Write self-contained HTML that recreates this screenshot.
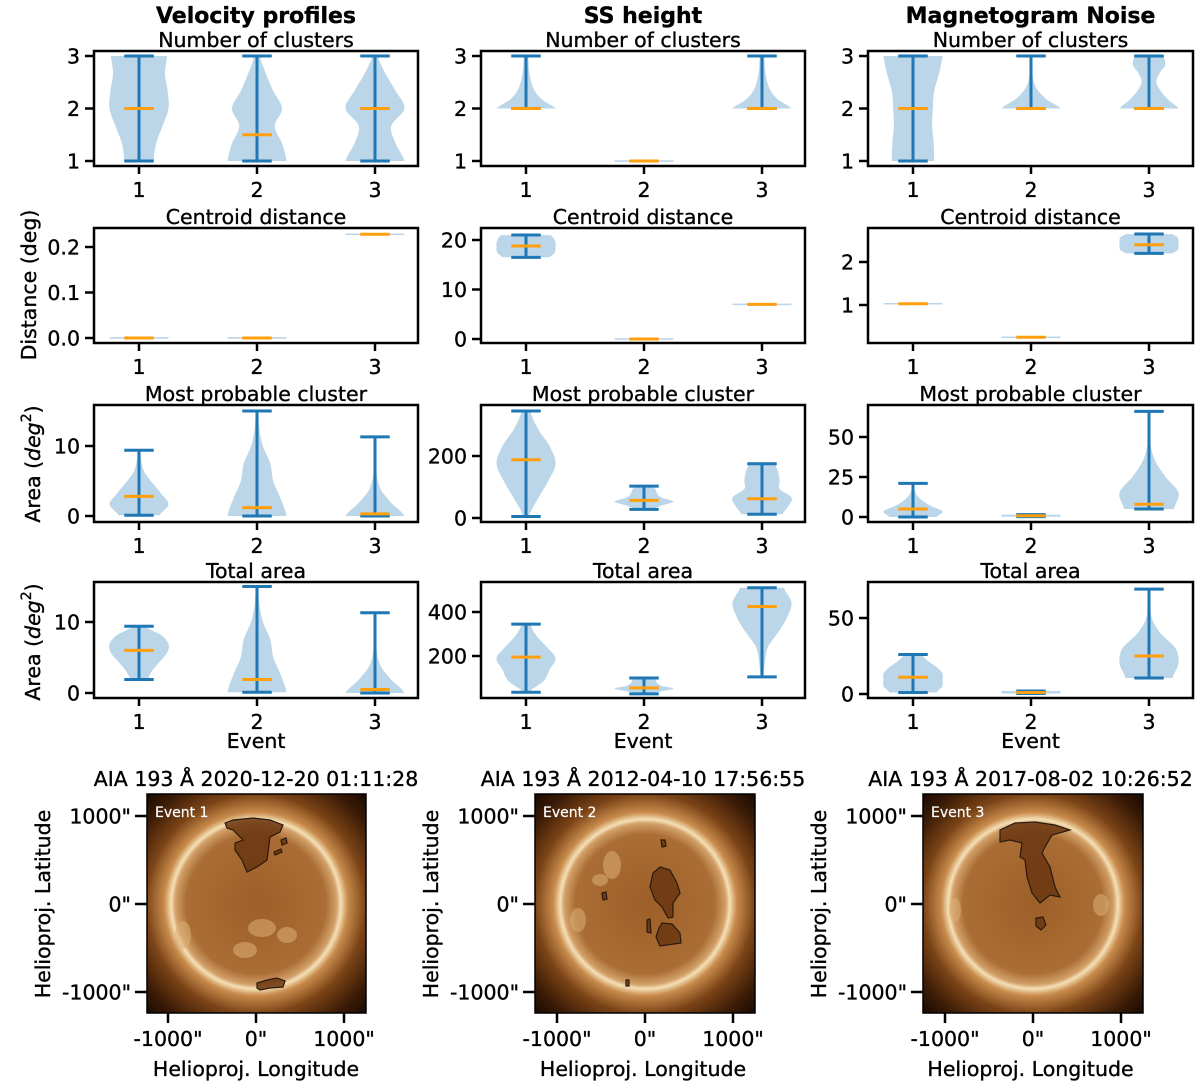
<!DOCTYPE html>
<html><head><meta charset="utf-8">
<style>
html,body{margin:0;padding:0;background:#fff;}
svg{display:block;font-family:"DejaVu Sans","Liberation Sans",sans-serif;}
svg text{stroke:#000;stroke-width:0.35px;}
svg text.wt{stroke:#fff;stroke-width:0.2px;}
</style></head>
<body>
<svg id="fig" width="1200" height="1091" viewBox="0 0 1200 1091" xmlns="http://www.w3.org/2000/svg">
<defs>
  <radialGradient id="corona" cx="0.5" cy="0.5" r="0.5">
    <stop offset="0" stop-color="#b27335"/>
    <stop offset="0.54" stop-color="#c98d50"/>
    <stop offset="0.556" stop-color="#f3dcb0"/>
    <stop offset="0.6" stop-color="#c88b4c"/>
    <stop offset="0.72" stop-color="#7a4316"/>
    <stop offset="0.88" stop-color="#3c1c06"/>
    <stop offset="1" stop-color="#1c0b02"/>
  </radialGradient>
  <radialGradient id="disc" cx="0.5" cy="0.5" r="0.5">
    <stop offset="0" stop-color="#9c5f27"/>
    <stop offset="0.82" stop-color="#aa6e35"/>
    <stop offset="0.95" stop-color="#d2a068"/>
    <stop offset="1" stop-color="#f7e4be"/>
  </radialGradient>
</defs>
</svg>
<script>
// ---------- violin chart data (index: [column][event]) ----------
const events = [1, 2, 3];
const columnTitles = ["Velocity profiles", "SS height", "Magnetogram Noise"];
const rowTitles = ["Number of clusters", "Centroid distance", "Most probable cluster", "Total area"];

const clustersMin = [[1,1,1],[2,1,2],[1,2,2]];
const clustersMax = [[3,3,3],[3,1,3],[3,3,3]];
const clustersMed = [[2,1.5,2],[2,1,2],[2,2,2]];
const clustersDens = [
  [[0.5,0.58,0.8,1.0,0.97,0.88,0.95],[1.0,0.85,0.6,0.85,0.55,0.3,0.1],[1.0,0.7,0.55,1.0,0.7,0.35,0.1]],
  [[1.0,0.55,0.3,0.18,0.12,0.09,0.08],[1,1,1,1,1,1,1],[1.0,0.55,0.3,0.18,0.12,0.09,0.08]],
  [[0.72,0.7,0.65,0.67,0.72,0.88,1.0],[1.0,0.55,0.25,0.1,0.05,0.04,0.03],[1.0,0.65,0.4,0.25,0.35,0.55,0.5]]
];

const distMin = [[0,0,0.228],[16.5,0,7],[1.03,0.25,2.2]];
const distMax = [[0,0,0.228],[21,0,7],[1.03,0.25,2.65]];
const distMed = [[0,0,0.228],[18.8,0,7],[1.03,0.25,2.4]];
const distDens = [
  [[1,1,1,1,1,1,1],[1,1,1,1,1,1,1],[1,1,1,1,1,1,1]],
  [[0.8,0.95,1.0,1.0,1.0,0.95,0.85],[1,1,1,1,1,1,1],[1,1,1,1,1,1,1]],
  [[1,1,1,1,1,1,1],[1,1,1,1,1,1,1],[0.8,0.97,1.0,1.0,1.0,0.97,0.8]]
];

const mpcMin = [[0.1,0,0],[5,28,12],[0,0.2,5]];
const mpcMax = [[9.4,15,11.3],[345,103,175],[21,1.5,66]];
const mpcMed = [[2.8,1.2,0.3],[188,57,62],[5,0.8,8]];
const mpcDens = [
  [[0.7,1.0,0.75,0.45,0.18,0.08,0.05],[1.0,0.8,0.55,0.45,0.2,0.08,0.05],[1.0,0.55,0.2,0.07,0.04,0.03,0.03]],
  [[0.1,0.4,0.75,1.0,0.8,0.4,0.15],[0.3,0.6,1.0,0.6,0.45,0.4,0.3],[0.7,0.9,1.0,0.6,0.6,0.55,0.45]],
  [[0.8,1.0,0.6,0.3,0.12,0.05,0.03],[1,1,1,1,1,1,1],[0.85,1.0,0.55,0.2,0.05,0.03,0.03]]
];

const totMin = [[1.9,0.1,0],[35,28,105],[1,0.3,10.5]];
const totMax = [[9.4,15,11.3],[345,100,510],[26,2,69]];
const totMed = [[6,1.9,0.5],[195,55,425],[11,1,25]];
const totDens = [
  [[0.3,0.45,0.7,0.95,1.0,0.75,0.2],[1.0,0.8,0.55,0.45,0.2,0.08,0.05],[1.0,0.55,0.2,0.07,0.04,0.03,0.03]],
  [[0.1,0.6,0.8,1.0,0.7,0.35,0.15],[0.3,0.6,1.0,0.6,0.45,0.4,0.3],[0.05,0.1,0.2,0.55,0.85,1.0,0.75]],
  [[0.8,1.0,1.0,1.0,0.8,0.5,0.3],[1,1,1,1,1,1,1],[0.8,1.0,0.9,0.4,0.1,0.05,0.05]]
];

// tick values per [row][col]
const yTicks = [
  [[1,2,3],[1,2,3],[1,2,3]],
  [[0,0.1,0.2],[0,10,20],[1,2]],
  [[0,10],[0,200],[0,25,50]],
  [[0,10],[200,400],[0,50]]
];
const yTickLabels = [
  [["1","2","3"],["1","2","3"],["1","2","3"]],
  [["0.0","0.1","0.2"],["0","10","20"],["1","2"]],
  [["0","10"],["0","200"],["0","25","50"]],
  [["0","10"],["200","400"],["0","50"]]
];
const solarTitles = ["AIA 193 Å 2020-12-20 01:11:28","AIA 193 Å 2012-04-10 17:56:55","AIA 193 Å 2017-08-02 10:26:52"];
const solarTickVals = [-1000, 0, 1000];
const solarTickLabels = ['-1000"', '0"', '1000"'];

// ---------- layout (not data) ----------
const NS = "http://www.w3.org/2000/svg";
const svg = document.getElementById("fig");
const boxL = [94, 481, 868], boxR = [418, 805, 1193];
const boxT = [51, 228, 405, 582], boxB = [166, 343, 522, 698];
const ev1X = [139, 526, 913], evStep = 118;
const yCal = [
  [[1,161,3,56],[1,161,3,56],[1,161,3,56]],
  [[0,338,0.2,247],[0,339,20,240],[1,305,2,262]],
  [[0,516,10,446],[0,518,200,456],[0,517,50,437]],
  [[0,693,10,622],[200,656,400,612],[0,694,50,618]]
];
const BLUE = "#1f77b4", FILL = "#1f77b4", ORANGE = "#ff9f0e";
const FS = 20.5;

function mk(tag, attrs, parent) {
  const e = document.createElementNS(NS, tag);
  for (const k in attrs) e.setAttribute(k, attrs[k]);
  (parent || svg).appendChild(e);
  return e;
}
function xScale(col, ev) { return ev1X[col] + (ev - 1) * evStep; }
function yScale(row, col, v) {
  const c = yCal[row][col];
  return c[1] + (v - c[0]) * (c[3] - c[1]) / (c[2] - c[0]);
}
function catmull(arr, t) {
  const n = arr.length - 1;
  const i = Math.min(Math.floor(t), n - 1), f = t - i;
  const p0 = arr[Math.max(i - 1, 0)], p1 = arr[i], p2 = arr[i + 1], p3 = arr[Math.min(i + 2, n)];
  return 0.5 * ((2 * p1) + (-p0 + p2) * f + (2 * p0 - 5 * p1 + 4 * p2 - p3) * f * f + (-p0 + 3 * p1 - 3 * p2 + p3) * f * f * f);
}

const rowsData = [
  [clustersMin, clustersMax, clustersMed, clustersDens],
  [distMin, distMax, distMed, distDens],
  [mpcMin, mpcMax, mpcMed, mpcDens],
  [totMin, totMax, totMed, totDens]
];
const HALF = 0.25 * evStep, CAP = 0.125 * evStep;

for (let r = 0; r < 4; r++) {
  for (let c = 0; c < 3; c++) {
    const g = mk("g", {});
    
    
    const [mins, maxs, meds, dens] = rowsData[r];
    const cx = (boxL[c] + boxR[c]) / 2;
    const tt = mk("text", {x: cx, y: boxT[r] - 4, "text-anchor": "middle", "font-size": FS}, g);
    tt.textContent = rowTitles[r];
    
    
    for (let e = 0; e < 3; e++) {
      const x = xScale(c, events[e]);
      const mn = mins[c][e], mx = maxs[c][e], md = meds[c][e], d = dens[c][e];
      const yMin = yScale(r, c, mn), yMax = yScale(r, c, mx), yMed = yScale(r, c, md);
      if (Math.abs(yMin - yMax) < 2) {
        const ln = mk("line", {x1: x - HALF, x2: x + HALF, y1: yMin, y2: yMin, stroke: "#bcd4e8", "stroke-width": 1.5}, g);
        
        
      } else {
        const N = 60; let left = [], right = [];
        for (let i = 0; i <= N; i++) {
          const t = i / N;
          const v = mn + t * (mx - mn);
          const w = Math.max(0.02, catmull(d, t * (d.length - 1))) * HALF;
          const y = yScale(r, c, v);
          left.push((x - w).toFixed(1) + "," + y.toFixed(1));
          right.unshift((x + w).toFixed(1) + "," + y.toFixed(1));
        }
        const body = mk("polygon", {points: left.concat(right).join(" "), fill: FILL, "fill-opacity": 0.3}, g);
        
        
        const bar = mk("line", {x1: x, x2: x, y1: yMin, y2: yMax, stroke: BLUE, "stroke-width": 3}, g);
        
        
        const cap1 = mk("line", {x1: x - CAP, x2: x + CAP, y1: yMin, y2: yMin, stroke: BLUE, "stroke-width": 3}, g);
        
        
        const cap2 = mk("line", {x1: x - CAP, x2: x + CAP, y1: yMax, y2: yMax, stroke: BLUE, "stroke-width": 3}, g);
        
        
      }
      const med = mk("line", {x1: x - CAP, x2: x + CAP, y1: yMed, y2: yMed, stroke: ORANGE, "stroke-width": 3}, g);
      
      
      const xt = mk("line", {x1: x, x2: x, y1: boxB[r], y2: boxB[r] + 8, stroke: "#000", "stroke-width": 2.5}, g);
      
      
      const xl = mk("text", {x: x, y: boxB[r] + 31, "text-anchor": "middle", "font-size": FS}, g);
      xl.textContent = String(events[e]);
      
      
    }
    const tv = yTicks[r][c], tl = yTickLabels[r][c];
    for (let k = 0; k < tv.length; k++) {
      const y = yScale(r, c, tv[k]);
      const yt = mk("line", {x1: boxL[c] - 9, x2: boxL[c], y1: y, y2: y, stroke: "#000", "stroke-width": 2.5}, g);
      
      
      const yl = mk("text", {x: boxL[c] - 14, y: y + 7.5, "text-anchor": "end", "font-size": FS}, g);
      yl.textContent = tl[k];
      
      
    }
    const box = mk("rect", {x: boxL[c], y: boxT[r], width: boxR[c] - boxL[c], height: boxB[r] - boxT[r], fill: "none", stroke: "#000", "stroke-width": 2.5}, g);
    
    
  }
}
for (let c = 0; c < 3; c++) {
  const t = mk("text", {x: (boxL[c] + boxR[c]) / 2, y: 23, "text-anchor": "middle", "font-size": 22, "font-weight": "bold"});
  t.textContent = columnTitles[c];
  
  
  const ev = mk("text", {x: (boxL[c] + boxR[c]) / 2, y: 748, "text-anchor": "middle", "font-size": FS});
  ev.textContent = "Event";
  
  
}
const ylabs = [["Distance (deg)", 30, 285, false], ["Area (", 34, 464, true], ["Area (", 34, 642, true]];
for (const [txt, x, y, sup] of ylabs) {
  const t = mk("text", {x: x, y: y, "text-anchor": "middle", "font-size": FS, transform: "rotate(-90 " + x + " " + y + ")", "dominant-baseline": "middle"});
  if (sup) {
    t.innerHTML = 'Area (<tspan font-style="italic">deg</tspan><tspan dy="-7" font-size="14">2</tspan><tspan dy="7">)</tspan>';
  } else t.textContent = txt;
  
  
}

// ---------- solar images ----------
const imgL = [147, 535, 923], imgR = [366, 755, 1143], imgT = 794, imgB = 1013;
const sunCX = [256, 645, 1033], sunCY = 904, sunR = 85;
const pxPerArcsec = 0.088;
const holes = [
  [
    "225,823 233,820 253,818 270,820 283,825 280,832 270,837 267,860 257,867 247,872 242,860 235,850 235,843 243,840 233,830 227,828",
    "257,983 267,980 277,978 285,981 283,987 270,988 260,990 257,988",
    "281,840 286,838 287,843 282,845",
    "274,852 281,849 282,852 275,855"
  ],
  [
    "660,867 670,870 677,883 680,893 673,903 673,917 668,918 662,907 655,900 650,887 653,873",
    "662,923 672,924 680,933 681,943 660,946 656,937 659,928",
    "661,840 665,840 666,846 662,847",
    "602,893 606,892 607,899 603,900",
    "647,920 650,919 651,933 647,932",
    "626,980 629,980 629,986 626,986"
  ],
  [
    "1000,830 1015,823 1035,822 1055,825 1070,830 1052,835 1045,847 1042,853 1050,867 1055,887 1060,897 1050,895 1040,903 1032,893 1027,877 1025,860 1020,857 1022,843 1010,840 1000,842",
    "1036,918 1043,917 1046,925 1041,930 1036,926"
  ]
];
const brightSpots = [
  [[262,928,14,9],[287,935,10,8],[183,935,8,14],[245,950,12,8]],
  [[612,865,9,14],[578,920,8,12],[600,880,8,6]],
  [[1101,905,8,11],[955,910,6,12]]
];
for (let c = 0; c < 3; c++) {
  const g = mk("g", {});
  
  
  const clip = mk("clipPath", {id: "clip" + c}, g);
  mk("rect", {x: imgL[c], y: imgT, width: imgR[c] - imgL[c], height: imgB - imgT}, clip);
  const ig = mk("g", {"clip-path": "url(#clip" + c + ")"}, g);
  const bg = mk("rect", {x: imgL[c], y: imgT, width: imgR[c] - imgL[c], height: imgB - imgT, fill: "#1c0b02"}, ig);
  
  
  const cor = mk("circle", {cx: sunCX[c], cy: sunCY, r: sunR * 1.8, fill: "url(#corona)"}, ig);
  
  
  const disc = mk("circle", {cx: sunCX[c], cy: sunCY, r: sunR, fill: "url(#disc)"}, ig);
  
  
  for (const s of brightSpots[c]) {
    const b = mk("ellipse", {cx: s[0], cy: s[1], rx: s[2], ry: s[3], fill: "#dcae76", opacity: 0.55}, ig);
    
    
  }
  for (const h of holes[c]) {
    const p = mk("polygon", {points: h, fill: "#6a3610", stroke: "#2a1a0e", "stroke-width": 1.2, "fill-opacity": 0.85}, ig);
    
    
  }
  const el = mk("text", {x: imgL[c] + 8, y: imgT + 23, "font-size": 14, fill: "#fff", class: "wt"}, g);
  el.textContent = "Event " + (c + 1);
  
  
  const fr = mk("rect", {x: imgL[c], y: imgT, width: imgR[c] - imgL[c], height: imgB - imgT, fill: "none", stroke: "#000", "stroke-width": 1.5}, g);
  
  
  const ti = mk("text", {x: (boxL[c] + boxR[c]) / 2, y: 786, "text-anchor": "middle", "font-size": FS}, g);
  ti.textContent = solarTitles[c];
  
  
  for (let k = 0; k < 3; k++) {
    const x = sunCX[c] + solarTickVals[k] * pxPerArcsec;
    const y = sunCY - solarTickVals[k] * pxPerArcsec;
    const xt = mk("line", {x1: x, x2: x, y1: imgB, y2: imgB + 10, stroke: "#000", "stroke-width": 2.5}, g);
    
    
    const xl = mk("text", {x: x, y: 1046, "text-anchor": "middle", "font-size": FS}, g);
    xl.textContent = solarTickLabels[k];
    
    
    const yt = mk("line", {x1: imgL[c] - 12, x2: imgL[c], y1: y, y2: y, stroke: "#000", "stroke-width": 2.5}, g);
    
    
    const yl = mk("text", {x: imgL[c] - 16, y: y + 7.5, "text-anchor": "end", "font-size": FS}, g);
    yl.textContent = solarTickLabels[k];
    
    
  }
  const xa = mk("text", {x: (boxL[c] + boxR[c]) / 2, y: 1076, "text-anchor": "middle", "font-size": FS}, g);
  xa.textContent = "Helioproj. Longitude";
  
  
  const lx = imgL[c] - 103;
  const ya = mk("text", {x: lx, y: 904, "text-anchor": "middle", "font-size": FS, "dominant-baseline": "middle", transform: "rotate(-90 " + lx + " 904)"}, g);
  ya.textContent = "Helioproj. Latitude";
  
  
}
</script>
</body></html>
